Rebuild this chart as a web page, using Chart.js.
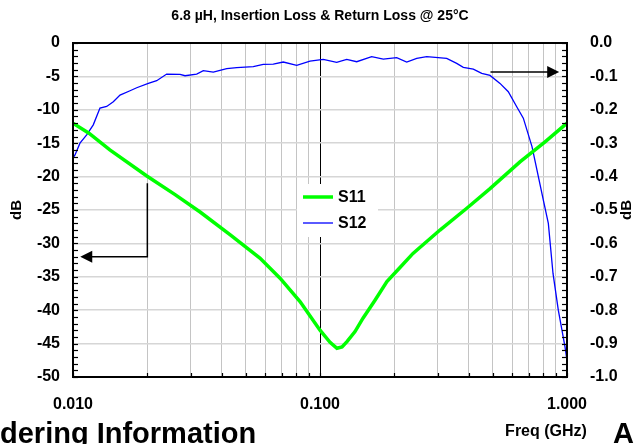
<!DOCTYPE html>
<html><head><meta charset="utf-8">
<script src="https://cdn.jsdelivr.net/npm/chart.js@4.4.0/dist/chart.umd.min.js"></script>
<style>html,body{margin:0;padding:0;background:#fff}#wrap{width:634px;height:444px}</style>
</head><body><div id="wrap"><canvas id="c" width="634" height="444"></canvas></div>
<script>
const chartTitle = '6.8 µH, Insertion Loss & Return Loss @ 25°C';
const xAxisTitle = 'Freq (GHz)';
const yAxisTitle = 'dB';
const footerText = 'dering Information';
const cornerText = 'A';
const seriesNames = ['S11', 'S12'];

const s11Freq = [0.0100,0.0116,0.0141,0.0199,0.0259,0.0327,0.0432,0.0571,0.0689,0.0830,0.1000,0.1098,0.1171,0.1228,0.1286,0.1386,0.1493,0.1670,0.1866,0.2108,0.2380,0.3060,0.3940,0.4880,0.6450,0.8150,1.0000];
const s11Db   = [-12.0,-13.5,-16.0,-19.9,-22.7,-25.3,-28.7,-32.2,-35.2,-38.7,-43.0,-44.8,-45.7,-45.5,-44.7,-43.2,-41.2,-38.5,-35.7,-33.6,-31.5,-28.0,-24.7,-21.8,-17.8,-14.8,-12.0];

const s12Freq = [0.01000,0.01019,0.01067,0.01136,0.01208,0.01286,0.01369,0.01456,0.0155,0.01702,0.01811,0.02018,0.02182,0.02395,0.02712,0.02841,0.03168,0.03369,0.03698,0.04192,0.04601,0.0537,0.0589,0.0647,0.0710,0.0805,0.0911,0.1031,0.1168,0.1283,0.1408,0.1619,0.1804,0.2044,0.2244,0.2464,0.2704,0.3258,0.3576,0.3803,0.4175,0.4516,0.4879,0.5355,0.5785,0.6258,0.6655,0.7216,0.8017,0.8403,0.8777,0.9222,0.9815,1.0];
const s12Db   = [-0.344,-0.335,-0.300,-0.275,-0.245,-0.195,-0.190,-0.176,-0.156,-0.143,-0.134,-0.121,-0.113,-0.093,-0.094,-0.098,-0.093,-0.083,-0.087,-0.077,-0.074,-0.071,-0.064,-0.063,-0.057,-0.067,-0.054,-0.049,-0.058,-0.049,-0.056,-0.041,-0.048,-0.044,-0.057,-0.046,-0.041,-0.046,-0.061,-0.073,-0.078,-0.091,-0.097,-0.121,-0.146,-0.191,-0.225,-0.310,-0.470,-0.540,-0.690,-0.800,-0.910,-0.950];

const xGridValues = [0.01,0.02,0.03,0.04,0.05,0.06,0.07,0.08,0.09,0.1,0.2,0.3,0.4,0.5,0.6,0.7,0.8,0.9,1];
const xMajorValues = [0.01, 0.1, 1];
const xTickLabels = ['0.010', '0.100', '1.000'];

// annotation arrows in data units
const leftArrow = {freq: 0.02, fromDb: -21, toDb: -32, tipFreq: 0.0107};
const rightArrow = {value: -0.087, fromFreq: 0.49, tipFreq: 0.93};

const FONT = 'Liberation Sans, Arial, sans-serif';

function majorIndex(v) {
  return xMajorValues.findIndex(m => Math.abs(m - v) / m < 1e-6);
}

const decor = {
  id: 'decor',
  beforeDraw(chart) {
    const c = chart.ctx;
    c.save(); c.fillStyle = '#fff'; c.fillRect(0, 0, chart.width, chart.height); c.restore();
  },
  beforeDatasetsDraw(chart) {
    const c = chart.ctx;
    c.save();
    c.fillStyle = '#fff';
    c.fillRect(297, 184, 81, 53);
    c.restore();
  },
  afterDatasetsDraw(chart) {
    const c = chart.ctx;
    const a = chart.chartArea;
    const x = chart.scales.x, y = chart.scales.y, y2 = chart.scales.y2;
    c.save();
    c.strokeStyle = '#000';
    c.lineWidth = 2;
    c.strokeRect(a.left, a.top, a.right - a.left, a.bottom - a.top);
    c.lineWidth = 1.2;
    for (let v = -50; v <= 0; v += 1) {
      const py = Math.round(y.getPixelForValue(v)) + 0.5;
      c.beginPath(); c.moveTo(a.left, py); c.lineTo(a.left + 5, py); c.stroke();
    }
    for (let i = 0; i <= 50; i++) {
      const py = Math.round(y2.getPixelForValue(-i * 0.02)) + 0.5;
      c.beginPath(); c.moveTo(a.right, py); c.lineTo(a.right - 5, py); c.stroke();
    }
    xGridValues.forEach(v => {
      const px = Math.round(x.getPixelForValue(v)) + 0.5;
      c.beginPath(); c.moveTo(px, a.bottom); c.lineTo(px, a.bottom - 4); c.stroke();
    });
    // legend
    const ds = chart.data.datasets;
    c.textBaseline = 'middle';
    c.textAlign = 'left';
    c.font = 'bold 16px ' + FONT;
    c.fillStyle = '#000';
    [[197, ds[0]], [223, ds[1]]].forEach(([ly, d]) => {
      c.strokeStyle = d.borderColor; c.lineWidth = d.borderWidth;
      c.beginPath(); c.moveTo(303, ly); c.lineTo(333, ly); c.stroke();
      c.fillText(d.label, 338, ly + 1);
    });
    // arrows
    c.strokeStyle = '#000'; c.fillStyle = '#000'; c.lineWidth = 1.5;
    const ax = x.getPixelForValue(leftArrow.freq);
    const ay1 = y.getPixelForValue(leftArrow.fromDb), ay2 = y.getPixelForValue(leftArrow.toDb);
    const atip = x.getPixelForValue(leftArrow.tipFreq);
    c.beginPath(); c.moveTo(ax, ay1); c.lineTo(ax, ay2); c.lineTo(atip + 10, ay2); c.stroke();
    c.beginPath(); c.moveTo(atip, ay2); c.lineTo(atip + 12, ay2 - 6); c.lineTo(atip + 12, ay2 + 6); c.closePath(); c.fill();
    const by = y2.getPixelForValue(rightArrow.value);
    const bx1 = x.getPixelForValue(rightArrow.fromFreq), btip = x.getPixelForValue(rightArrow.tipFreq);
    c.beginPath(); c.moveTo(bx1, by); c.lineTo(btip - 10, by); c.stroke();
    c.beginPath(); c.moveTo(btip, by); c.lineTo(btip - 12, by - 6); c.lineTo(btip - 12, by + 6); c.closePath(); c.fill();
    // texts
    c.fillStyle = '#000';
    c.textAlign = 'center'; c.textBaseline = 'middle';
    c.font = 'bold 14px ' + FONT;
    c.fillText(chartTitle, (a.left + a.right) / 2, 16);
    c.font = 'bold 16px ' + FONT;
    c.fillText(xAxisTitle, 546, 432);
    c.save(); c.translate(17, 210); c.rotate(-Math.PI / 2); c.font = 'bold 15px ' + FONT; c.fillText(yAxisTitle, 0, 0); c.restore();
    c.save(); c.translate(627, 210); c.rotate(-Math.PI / 2); c.font = 'bold 15px ' + FONT; c.fillText(yAxisTitle, 0, 0); c.restore();
    c.textAlign = 'left'; c.textBaseline = 'alphabetic';
    c.font = 'bold 29px ' + FONT;
    c.fillText(footerText, 0, 443);
    c.fillText(cornerText, 613, 443);
    c.restore();
  }
};

new Chart(document.getElementById('c'), {
  type: 'line',
  data: {
    datasets: [
      {label: seriesNames[0], data: s11Freq.map((f, i) => ({x: f, y: s11Db[i]})), borderColor: '#00ff00', borderWidth: 3.5, yAxisID: 'y', pointRadius: 0, tension: 0, fill: false},
      {label: seriesNames[1], data: s12Freq.map((f, i) => ({x: f, y: s12Db[i]})), borderColor: '#0000ff', borderWidth: 1.3, yAxisID: 'y2', pointRadius: 0, tension: 0, fill: false}
    ]
  },
  options: {
    responsive: false, animation: false, devicePixelRatio: 1,
    layout: {padding: {top: 43, left: 0, right: 0, bottom: 0}},
    plugins: {legend: {display: false}, title: {display: false}, tooltip: {enabled: false}},
    scales: {
      x: {
        type: 'logarithmic', min: 0.01, max: 1, position: 'bottom',
        afterBuildTicks: s => { s.ticks = xGridValues.map(v => ({value: v})); },
        afterFit: s => { s.height = 67; },
        ticks: {
          autoSkip: false, maxRotation: 0, minRotation: 0, padding: 18, color: '#000',
          font: {family: FONT, size: 16, weight: 'bold'},
          callback: v => { const i = majorIndex(v); return i >= 0 ? xTickLabels[i] : ''; }
        },
        grid: {drawTicks: false, lineWidth: 1, color: c => (c.tick && majorIndex(c.tick.value) === 1) ? '#000' : '#c4c4c4'},
        border: {display: false}
      },
      y: {
        position: 'left', min: -50, max: 0,
        afterFit: s => { s.width = 73; },
        ticks: {stepSize: 5, padding: 13, color: '#000', font: {family: FONT, size: 16, weight: 'bold'}},
        grid: {drawTicks: false, lineWidth: 1.5, color: '#d6d6d6'},
        border: {display: false}
      },
      y2: {
        position: 'right', min: -1, max: 0,
        afterFit: s => { s.width = 67; },
        ticks: {stepSize: 0.1, padding: 15, color: '#000', font: {family: FONT, size: 16, weight: 'bold'}, callback: v => (Math.abs(v) < 1e-9 ? 0 : v).toFixed(1)},
        grid: {display: false},
        border: {display: false}
      }
    }
  },
  plugins: [decor]
});
</script></body></html>
